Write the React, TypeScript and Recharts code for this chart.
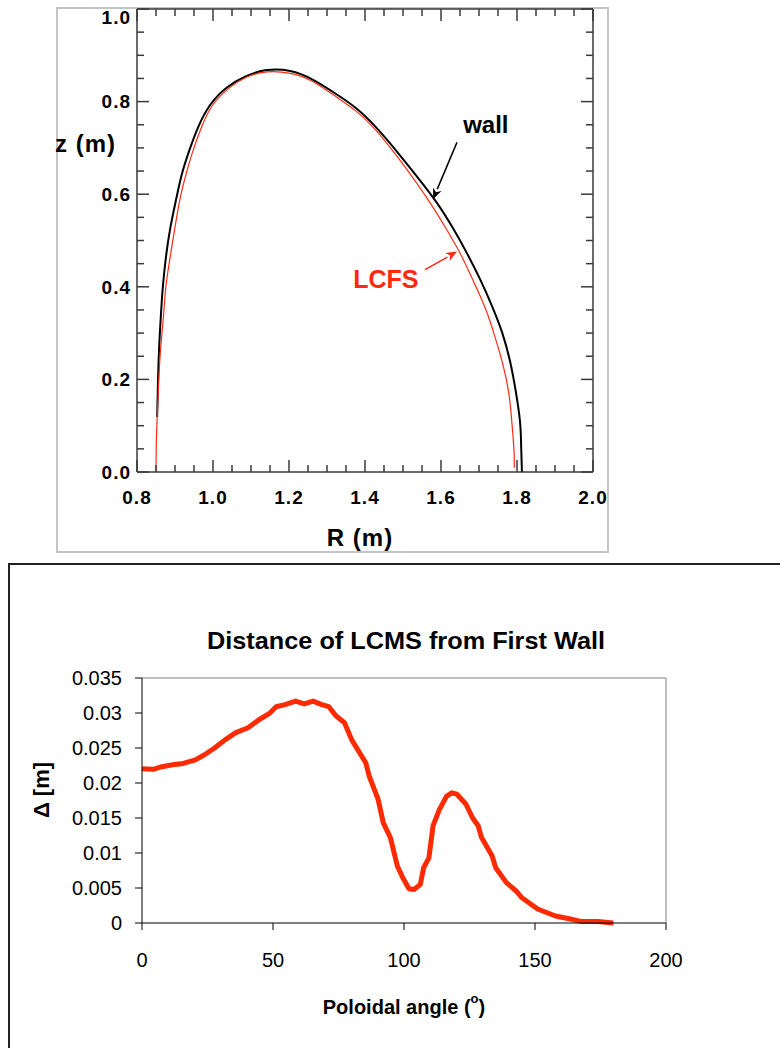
import React from 'react';
import { LineChart, Line, XAxis, YAxis, ReferenceLine, ReferenceDot } from 'recharts';

const FONT = '"Liberation Sans", Arial, Helvetica, sans-serif';
const AXIS = '#3a3a3a';
const RED = '#ff2a10';

// ---- top panel: wall and LCFS contours, R-z plane ----
const R_TICKS = [0.8, 0.85, 0.9, 0.95, 1.0, 1.05, 1.1, 1.15, 1.2, 1.25, 1.3, 1.35, 1.4, 1.45, 1.5, 1.55, 1.6, 1.65, 1.7, 1.75, 1.8, 1.85, 1.9, 1.95, 2.0];
const Z_TICKS = [0, 0.05, 0.1, 0.15, 0.2, 0.25, 0.3, 0.35, 0.4, 0.45, 0.5, 0.55, 0.6, 0.65, 0.7, 0.75, 0.8, 0.85, 0.9, 0.95, 1.0];

const wallR = [0.853, 0.855, 0.858, 0.863, 0.868, 0.876, 0.887, 0.903, 0.918, 0.937, 0.961, 0.992, 1.034, 1.087, 1.142, 1.203, 1.261, 1.321, 1.376, 1.434, 1.492, 1.539, 1.587, 1.629, 1.666, 1.703, 1.734, 1.761, 1.782, 1.797, 1.808, 1.811, 1.813];
const wallZ = [0.119, 0.188, 0.264, 0.34, 0.4, 0.463, 0.524, 0.589, 0.643, 0.693, 0.745, 0.792, 0.829, 0.855, 0.868, 0.866, 0.848, 0.818, 0.786, 0.74, 0.684, 0.636, 0.584, 0.53, 0.476, 0.416, 0.359, 0.301, 0.238, 0.173, 0.108, 0.054, 0.0];

const lcfsR = [0.85, 0.851, 0.854, 0.858, 0.863, 0.87, 0.876, 0.887, 0.899, 0.913, 0.929, 0.947, 0.97, 0.997, 1.039, 1.089, 1.142, 1.203, 1.261, 1.318, 1.374, 1.429, 1.484, 1.529, 1.574, 1.616, 1.653, 1.687, 1.718, 1.742, 1.763, 1.779, 1.787, 1.792, 1.793];
const lcfsZ = [0.0, 0.069, 0.134, 0.21, 0.275, 0.34, 0.4, 0.463, 0.524, 0.589, 0.643, 0.693, 0.745, 0.79, 0.827, 0.853, 0.864, 0.861, 0.844, 0.814, 0.781, 0.738, 0.682, 0.632, 0.578, 0.522, 0.468, 0.409, 0.351, 0.292, 0.232, 0.167, 0.102, 0.048, 0.009];

const wallArrow = [{ x: 1.642, y: 0.712 }, { x: 1.579, y: 0.589 }];
const lcfsArrow = [{ x: 1.558, y: 0.437 }, { x: 1.642, y: 0.476 }];

// ---- bottom panel: LCMS-wall gap vs poloidal angle ----
const angle = [0, 4.3, 7.6, 11.7, 15.7, 20.4, 23.7, 27.7, 31.8, 35.8, 40.5, 44.5, 48.5, 51.2, 54.6, 58.6, 61.9, 65.3, 68.6, 71.3, 74, 77.3, 80, 83.4, 85.4, 86.7, 90.1, 92.1, 94.8, 97.5, 99.5, 101.9, 103.9, 106.2, 107.5, 109.5, 111.1, 113.5, 116.2, 118.2, 120.2, 123.6, 126.2, 128.3, 129.6, 133.6, 135, 139, 143, 145, 151, 157.8, 163.1, 167.8, 173.9, 179.9];
const delta = [0.02205, 0.02195, 0.02233, 0.0226, 0.0228, 0.0233, 0.024, 0.025, 0.0262, 0.0272, 0.0279, 0.029, 0.0299, 0.0309, 0.0312, 0.0317, 0.0313, 0.0317, 0.0312, 0.0309, 0.0296, 0.0286, 0.0262, 0.0241, 0.0229, 0.021, 0.0177, 0.0143, 0.0122, 0.0081, 0.0065, 0.0049, 0.0048, 0.0055, 0.0079, 0.0093, 0.0139, 0.0162, 0.0181, 0.0186, 0.0184, 0.017, 0.015, 0.0139, 0.0122, 0.0096, 0.0079, 0.0058, 0.0045, 0.0036, 0.002, 0.001, 0.0006, 0.0002, 0.0002, 0.0];

const ANGLE_TICKS = [0, 50, 100, 150, 200];
const DELTA_TICKS = [0, 0.005, 0.01, 0.015, 0.02, 0.025, 0.03, 0.035];
const DELTA_LABELS = ['0', '0.005', '0.01', '0.015', '0.02', '0.025', '0.03', '0.035'];

const wallData = wallR.map((R, i) => ({ R, z: wallZ[i] }));
const lcfsData = lcfsR.map((R, i) => ({ R, z: lcfsZ[i] }));
const gapData = angle.map((a, i) => ({ angle: a, delta: delta[i] }));

const isMajor = (v: number) => Math.abs(v / 0.2 - Math.round(v / 0.2)) < 1e-6;
const tickLen = (v: number) => (isMajor(v) ? 12 : 7);

const labelStyle = { fontFamily: FONT, fontWeight: 700, fontSize: 19, fill: '#000', letterSpacing: 1 };

const BottomTick = (p: any) => (
  <g>
    <line x1={p.x} y1={p.y} x2={p.x} y2={p.y - tickLen(p.payload.value)} stroke={AXIS} strokeWidth={1.5} />
    {isMajor(p.payload.value) && (
      <text x={p.x} y={p.y + 32} textAnchor="middle" style={labelStyle}>
        {p.payload.value.toFixed(1)}
      </text>
    )}
  </g>
);

const TopTick = (p: any) => (
  <line x1={p.x} y1={p.y} x2={p.x} y2={p.y + tickLen(p.payload.value)} stroke={AXIS} strokeWidth={1.5} />
);

const LeftTick = (p: any) => (
  <g>
    <line x1={p.x} y1={p.y} x2={p.x + tickLen(p.payload.value)} y2={p.y} stroke={AXIS} strokeWidth={1.5} />
    {isMajor(p.payload.value) && (
      <text x={p.x - 6} y={Math.max(p.y, 17)} dy="0.36em" textAnchor="end" style={labelStyle}>
        {p.payload.value.toFixed(1)}
      </text>
    )}
  </g>
);

const RightTick = (p: any) => (
  <line x1={p.x} y1={p.y} x2={p.x - tickLen(p.payload.value)} y2={p.y} stroke={AXIS} strokeWidth={1.5} />
);

function arrowShape(color: string) {
  return (p: any) => {
    const { x1, y1, x2, y2 } = p;
    const a = Math.atan2(y2 - y1, x2 - x1);
    const L = 11;
    const W = 4.5;
    const bx = x2 - L * Math.cos(a);
    const by = y2 - L * Math.sin(a);
    const nx = -Math.sin(a) * W;
    const ny = Math.cos(a) * W;
    return (
      <g>
        <line x1={x1} y1={y1} x2={bx} y2={by} stroke={color} strokeWidth={1.5} />
        <polygon points={`${x2},${y2} ${bx + nx},${by + ny} ${bx + 0.3 * (x2 - bx)},${by + 0.3 * (y2 - by)} ${bx - nx},${by - ny}`} fill={color} />
      </g>
    );
  };
}

function textShape(txt: string, color: string, size: number) {
  return (p: any) => (
    <text x={p.cx} y={p.cy} textAnchor="middle" dominantBaseline="central"
      style={{ fontFamily: FONT, fontWeight: 700, fontSize: size, fill: color }}>
      {txt}
    </text>
  );
}

function ContourChart() {
  const axisLine = { stroke: AXIS, strokeWidth: 1.5 };
  return (
    <LineChart width={620} height={560} margin={{ top: 0, right: 22, bottom: 38, left: 77 }}>
      <XAxis type="number" dataKey="R" domain={[0.8, 2.0]} ticks={R_TICKS} interval={0} allowDataOverflow
        height={50} tickSize={0} tickMargin={0} axisLine={axisLine} tickLine={false} tick={BottomTick} />
      <XAxis xAxisId="top" orientation="top" type="number" dataKey="R" domain={[0.8, 2.0]} ticks={R_TICKS} interval={0} allowDataOverflow
        height={9} tickSize={0} tickMargin={0} axisLine={axisLine} tickLine={false} tick={TopTick} />
      <YAxis type="number" dataKey="z" domain={[0, 1]} ticks={Z_TICKS} interval={0} allowDataOverflow
        width={60} tickSize={0} tickMargin={0} axisLine={axisLine} tickLine={false} tick={LeftTick} />
      <YAxis yAxisId="right" orientation="right" type="number" dataKey="z" domain={[0, 1]} ticks={Z_TICKS} interval={0} allowDataOverflow
        width={5} tickSize={0} tickMargin={0} axisLine={axisLine} tickLine={false} tick={RightTick} />
      <Line data={wallData} dataKey="z" type="natural" stroke="#000" strokeWidth={2} dot={false} isAnimationActive={false} />
      <Line data={lcfsData} dataKey="z" type="natural" stroke={RED} strokeWidth={1.2} dot={false} isAnimationActive={false} />
      <ReferenceLine segment={wallArrow} shape={arrowShape('#000')} />
      <ReferenceLine segment={lcfsArrow} shape={arrowShape(RED)} />
      <ReferenceDot x={1.718} y={0.751} r={0} shape={textShape('wall', '#000', 24)} />
      <ReferenceDot x={1.455} y={0.416} r={0} shape={textShape('LCFS', RED, 25)} />
    </LineChart>
  );
}

function GapChart() {
  const tickStyle = { fill: '#000', fontSize: 20, fontFamily: FONT };
  return (
    <LineChart width={780} height={488} data={gapData} margin={{ top: 118, right: 114, bottom: 85, left: 82 }}>
      <XAxis type="number" dataKey="angle" domain={[0, 200]} ticks={ANGLE_TICKS} interval={0}
        height={40} tickSize={7} tickMargin={23} tick={tickStyle}
        axisLine={{ stroke: '#000' }} tickLine={{ stroke: '#000' }} />
      <YAxis type="number" domain={[0, 0.035]} ticks={DELTA_TICKS} interval={0}
        tickFormatter={(v: number) => DELTA_LABELS[DELTA_TICKS.indexOf(v)] ?? String(v)}
        width={60} tickSize={7} tickMargin={13} tick={tickStyle}
        axisLine={{ stroke: '#000' }} tickLine={{ stroke: '#000' }} />
      <ReferenceLine y={0.035} stroke="#808080" />
      <ReferenceLine x={200} stroke="#808080" />
      <Line dataKey="delta" type="linear" stroke="#ff2a00" strokeWidth={5} strokeLinejoin="round"
        dot={false} isAnimationActive={false} />
    </LineChart>
  );
}

export default function App() {
  return (
    <div style={{ position: 'absolute', left: 0, top: 0, width: 780, height: 1048, overflow: 'hidden', background: '#fff' }}>
      <svg width={780} height={1048} style={{ position: 'absolute', left: 0, top: 0 }}>
        <rect x={57} y={8} width={551} height={544} fill="none" stroke="#c4c4c4" strokeWidth={2} />
        <rect x={9} y={564} width={800} height={520} fill="none" stroke="#222" strokeWidth={2} />
      </svg>
      <div style={{ position: 'absolute', left: 0, top: 0 }}>
        <ContourChart />
      </div>
      <div style={{ position: 'absolute', left: 0, top: 560 }}>
        <GapChart />
      </div>
      <svg width={780} height={1048} style={{ position: 'absolute', left: 0, top: 0, pointerEvents: 'none' }}>
        <g style={{ fontFamily: FONT, fontWeight: 700, fill: '#000' }}>
          <text x={55} y={143} dominantBaseline="central" fontSize={24} letterSpacing={1}>z (m)</text>
          <text x={360} y={537} textAnchor="middle" dominantBaseline="central" fontSize={24} letterSpacing={1}>R (m)</text>
          <text x={406} y={640} textAnchor="middle" dominantBaseline="central" fontSize={24}
            textLength={398} lengthAdjust="spacingAndGlyphs">Distance of LCMS from First Wall</text>
          <text x={41} y={790} textAnchor="middle" dominantBaseline="central" fontSize={22}
            transform="rotate(-90 41 790)">Δ [m]</text>
          <text x={404} y={1007} textAnchor="middle" dominantBaseline="central" fontSize={20}>
            Poloidal angle (<tspan fontSize={13} dy={-9}>o</tspan><tspan dy={9}>)</tspan>
          </text>
        </g>
      </svg>
    </div>
  );
}
